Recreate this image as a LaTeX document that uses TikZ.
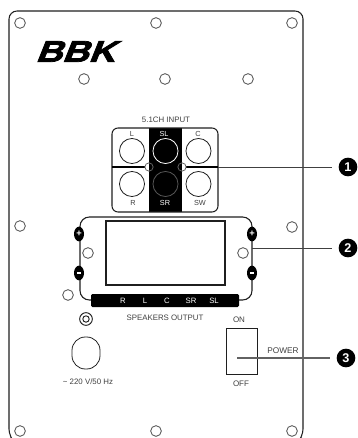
\documentclass[tikz,border=0pt]{standalone}
\usepackage{fontspec}
\setmainfont{Liberation Sans}
\newfontfamily\logofont[FakeSlant=0.4,FakeStretch=1.22,FakeBold=2.5]{Liberation Sans Bold}
\usetikzlibrary{shapes.geometric}
\definecolor{ink}{gray}{0.12}
\definecolor{lbl}{gray}{0.25}
\tikzset{
  x=0.75pt,y=-0.75pt,
  panel/.style={draw=ink,line width=0.8pt},
  screw/.style={circle,draw=ink!80,line width=0.6pt,fill=white,inner sep=0,minimum size=8pt},
  jack/.style={circle,draw=ink,line width=0.6pt,inner sep=0,minimum size=18.8pt},
  tiny/.style={circle,draw=ink!70,line width=0.6pt,inner sep=0,minimum size=6.2pt},
  lab/.style={text=lbl,font=\fontsize{5.5}{6}\selectfont,inner sep=0},
  wlab/.style={text=white,font=\fontsize{5.5}{6}\selectfont,inner sep=0},
  barlab/.style={text=white,font=\fontsize{5.8}{6}\selectfont,inner sep=0},
  big/.style={text=lbl,font=\fontsize{5.9}{6}\selectfont,inner sep=0},
  badge/.style={circle,fill=black,text=white,inner sep=0,minimum size=14pt,font=\fontsize{9.5}{10}\selectfont\bfseries},
  polar/.style={ellipse,fill=black,text=white,inner sep=0,minimum width=7.5pt,minimum height=11pt,font=\fontsize{7}{7}\selectfont\bfseries},
  leader/.style={draw=ink!85,line width=0.7pt,shorten >=5pt},
}
\begin{document}
\begin{tikzpicture}
\useasboundingbox (0,0) rectangle (357,438);
% panel outline
\draw[panel,rounded corners=6] (10,438) -- (9,437) -- (9,11) -- (303,11) -- (303,437) -- (302,438);
% screws
\node[screw] (s1) at (20,23) {};
\node[screw] (s2) at (156,23) {};
\node[screw] (s3) at (292,23) {};
\node[screw] (s4) at (84,79) {};
\node[screw] (s5) at (165,79) {};
\node[screw] (s6) at (248,79) {};
\node[screw] (s7) at (20,226) {};
\node[screw] (s8) at (292,227) {};
\node[screw] (s9) at (88,253) {};
\node[screw] (s10) at (243,253) {};
\node[screw] (s11) at (68,295) {};
\node[screw] (s12) at (20,431) {};
\node[screw] (s13) at (156,431) {};
\node[screw] (s14) at (292,431) {};
% logo
\node[inner sep=0,text=black,font=\logofont\fontsize{22.5}{22}\selectfont] (logo) at (75,51.5) {BBK};
% input block
\node[big] (inputlabel) at (166,120) {5.1CH INPUT};
\fill[black] (149,128) rectangle (182,212);
\draw[panel,rounded corners=4.5] (112,128) rectangle (218,212);
\draw[black,line width=1.3pt] (112,167) -- (218,167);
\node[jack] (jl) at (132,151) {};
\node[jack,draw=white] (jsl) at (165.5,151) {};
\node[jack] (jc) at (198.5,151) {};
\node[jack] (jr) at (132,184) {};
\node[jack,draw=ink!75!white] (jsr) at (165.5,184) {};
\node[jack] (jsw) at (198.5,184) {};
\fill[white] (144.8,163.8) rectangle (149,170.2);
\fill[white] (182,163.8) rectangle (186.2,170.2);
\fill[black] (149,163.8) rectangle (153,170.2);
\fill[black] (178,163.8) rectangle (182,170.2);
\node[tiny] (t1) at (149,167) {};
\node[tiny] (t2) at (182,167) {};
\node[lab] (ll) at (132,134) {L};
\node[wlab] (lsl) at (164,134) {SL};
\node[lab] (lc) at (198,134) {C};
\node[lab] (lr) at (133,203) {R};
\node[wlab] (lsr) at (165,203) {SR};
\node[lab] (lsw) at (200,203) {SW};
% speaker block
\draw[panel,rounded corners=7] (91,300) -- (80,300) -- (80,217) -- (252,217) -- (252,300) -- (239,300);
\node[draw=ink,line width=0.8pt,inner sep=0,minimum width=89.25pt,minimum height=48pt] (screen) at (165.5,253) {};
\fill[black,rounded corners=1] (91,294) rectangle (239,307);
\node[barlab] (br) at (123,301) {R};
\node[barlab] (bl) at (145,301) {L};
\node[barlab] (bc) at (167,301) {C};
\node[barlab] (bsr) at (191,301) {SR};
\node[barlab] (bsl) at (214,301) {SL};
\node[polar] (p1) at (79,234) {+};
\node[polar] (m1) at (79,273) {\rule{3.2pt}{0.9pt}};
\node[polar] (p2) at (252,234) {+};
\node[polar] (m2) at (252,273) {\rule{3.2pt}{0.9pt}};
\node[big] (speakers) at (165,318) {SPEAKERS OUTPUT};
\node[circle,draw=ink,line width=0.7pt,inner sep=0,minimum size=9.5pt] (coax) at (86,319) {};
\node[circle,draw=ink,line width=0.7pt,inner sep=0,minimum size=4.8pt] (coaxin) at (86,319) {};
% mains inlet
\node[draw=ink,line width=0.6pt,rounded corners=10pt,inner sep=0,minimum width=21pt,minimum height=24pt] (inlet) at (86,353) {};
\node[big] (mains) at (88,382) {\char"7E\ 220 V/50 Hz};
% power switch
\node[big,font=\fontsize{6}{6}\selectfont] (on) at (239,320) {ON};
\node[draw=ink,line width=0.7pt,inner sep=0,minimum width=23.2pt,minimum height=34pt] (switch) at (241.5,351.5) {};
\node[big,font=\fontsize{6}{6}\selectfont] (off) at (241,384) {OFF};
\node[big,font=\fontsize{6.2}{6}\selectfont] (power) at (283,351) {POWER};
% callouts
\node[badge] (b1) at (348,167) {1};
\node[badge] (b2) at (348,248) {2};
\node[badge] (b3) at (346,358) {3};
\coordinate (f1) at (218,167);
\coordinate (f2) at (252,248);
\coordinate (f3) at (237,358);
\draw[leader] (f1) -- (b1);
\draw[leader] (f2) -- (b2);
\draw[leader,line width=1pt,draw=ink!70] (f3) -- (b3);
\end{tikzpicture}
\end{document}
